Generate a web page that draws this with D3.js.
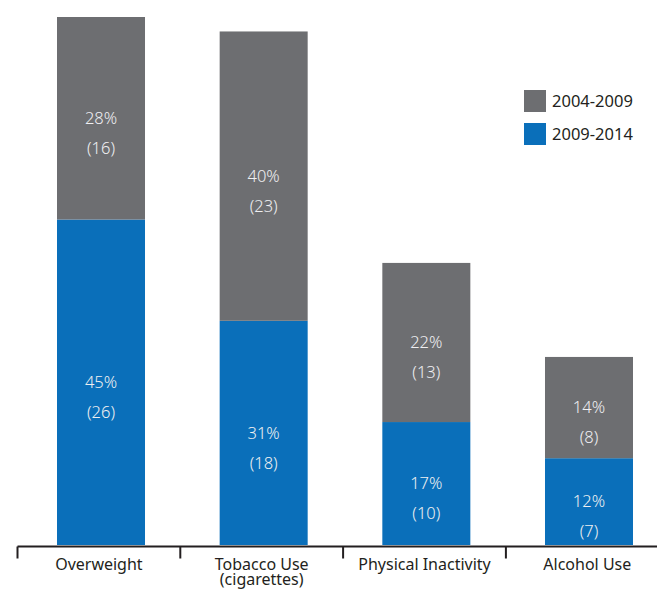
<!DOCTYPE html>
<html>
<head>
<meta charset="utf-8">
<script src="https://cdn.jsdelivr.net/npm/d3@7"></script>
<style>
  body { margin: 0; background: #fff; }
  svg { display: block; }
</style>
</head>
<body>
<div id="chart"></div>
<script>
// data (bar heights follow the percentages)
let categories = ["Overweight", "Tobacco Use (cigarettes)", "Physical Inactivity", "Alcohol Use"];
let seriesNames = ["2009-2014", "2004-2009"];
let recentPct = [45, 31, 17, 12];
let recentCounts = [26, 18, 10, 7];
let earlyPct = [28, 40, 22, 14];
let earlyCounts = [16, 23, 13, 8];
let colors = ["#0a6fba", "#6d6e71"];

let svgWidth = 657, svgHeight = 590;
let baseY = 545, topY = 17;
let font = "'Noto Sans', sans-serif";

let svg = d3.select("#chart").append("svg")
    .attr("width", svgWidth)
    .attr("height", svgHeight);

let x = d3.scaleBand().domain(categories).range([57, 633]).paddingInner(0.459).paddingOuter(0);
let xAxisScale = d3.scaleBand().domain(categories).range([17.5, 668.7]);
let y = d3.scaleLinear().domain([0, 73]).range([baseY, topY]);

let segments = [];
categories.forEach(function(c, i) {
    segments.push({cat: c, y0: 0, y1: recentPct[i], n: recentCounts[i], pct: recentPct[i], k: 0});
    segments.push({cat: c, y0: recentPct[i], y1: recentPct[i] + earlyPct[i], n: earlyCounts[i], pct: earlyPct[i], k: 1});
});

let bars = svg.selectAll(".seg")
    .data(segments)
    .enter()
    .append("g");

bars.append("rect")
    .attr("x", function(d) { return x(d.cat); })
    .attr("y", function(d) { return y(d.y1); })
    .attr("width", x.bandwidth())
    .attr("height", function(d) { return y(d.y0) - y(d.y1); })
    .attr("fill", function(d) { return colors[d.k]; });

bars.append("text")
    .text(function(d) { return d.pct + "%"; })
    .attr("x", function(d) { return x(d.cat) + x.bandwidth() / 2; })
    .attr("y", function(d) { return (y(d.y0) + y(d.y1)) / 2; })
    .attr("dy", "0.35em")
    .attr("text-anchor", "middle")
    .attr("font-family", font)
    .attr("font-weight", 300)
    .attr("font-size", "16.5px")
    .attr("fill", "#efeff1");

bars.append("text")
    .text(function(d) { return "(" + d.n + ")"; })
    .attr("x", function(d) { return x(d.cat) + x.bandwidth() / 2; })
    .attr("y", function(d) { return (y(d.y0) + y(d.y1)) / 2 + 30; })
    .attr("dy", "0.35em")
    .attr("text-anchor", "middle")
    .attr("font-family", font)
    .attr("font-weight", 300)
    .attr("font-size", "16.5px")
    .attr("fill", "#efeff1");

// axis: baseline plus little down ticks at band edges
let axisG = svg.append("g").attr("transform", "translate(0," + (baseY + 1.5) + ")");
axisG.append("line")
    .attr("x1", 17.5).attr("x2", svgWidth)
    .attr("stroke", "#231f20").attr("stroke-width", 2);
axisG.selectAll(".tick")
    .data(categories)
    .enter()
    .append("line")
    .attr("x1", function(d) { return xAxisScale(d); })
    .attr("x2", function(d) { return xAxisScale(d); })
    .attr("y1", 0).attr("y2", 12)
    .attr("stroke", "#231f20").attr("stroke-width", 2);

let labels = axisG.selectAll(".lbl")
    .data(categories)
    .enter()
    .append("text")
    .attr("x", function(d) { return xAxisScale(d) + xAxisScale.bandwidth() / 2; })
    .attr("y", 23)
    .attr("text-anchor", "middle")
    .attr("font-family", font)
    .attr("font-size", "16px")
    .attr("fill", "#231f20");

labels.each(function(d) {
    let parts = d == "Tobacco Use (cigarettes)" ? ["Tobacco Use", "(cigarettes)"] : [d];
    let t = d3.select(this);
    parts.forEach(function(p, i) {
        t.append("tspan")
            .attr("x", t.attr("x"))
            .attr("dy", i == 0 ? 0 : 15.5)
            .text(p);
    });
});

// legend
let legendNames = ["2004-2009", "2009-2014"];
let legendColors = ["#6d6e71", "#0a6fba"];
let legend = svg.selectAll(".legend")
    .data(legendNames)
    .enter()
    .append("g")
    .attr("transform", function(d, i) { return "translate(524," + (90 + i * 33) + ")"; });

legend.append("rect")
    .attr("width", 22).attr("height", 22)
    .attr("fill", function(d, i) { return legendColors[i]; });

legend.append("text")
    .text(function(d) { return d; })
    .attr("x", 28).attr("y", 11)
    .attr("dy", "0.35em")
    .attr("font-family", font)
    .attr("font-size", "16.5px")
    .attr("fill", "#231f20");
</script>
</body>
</html>
